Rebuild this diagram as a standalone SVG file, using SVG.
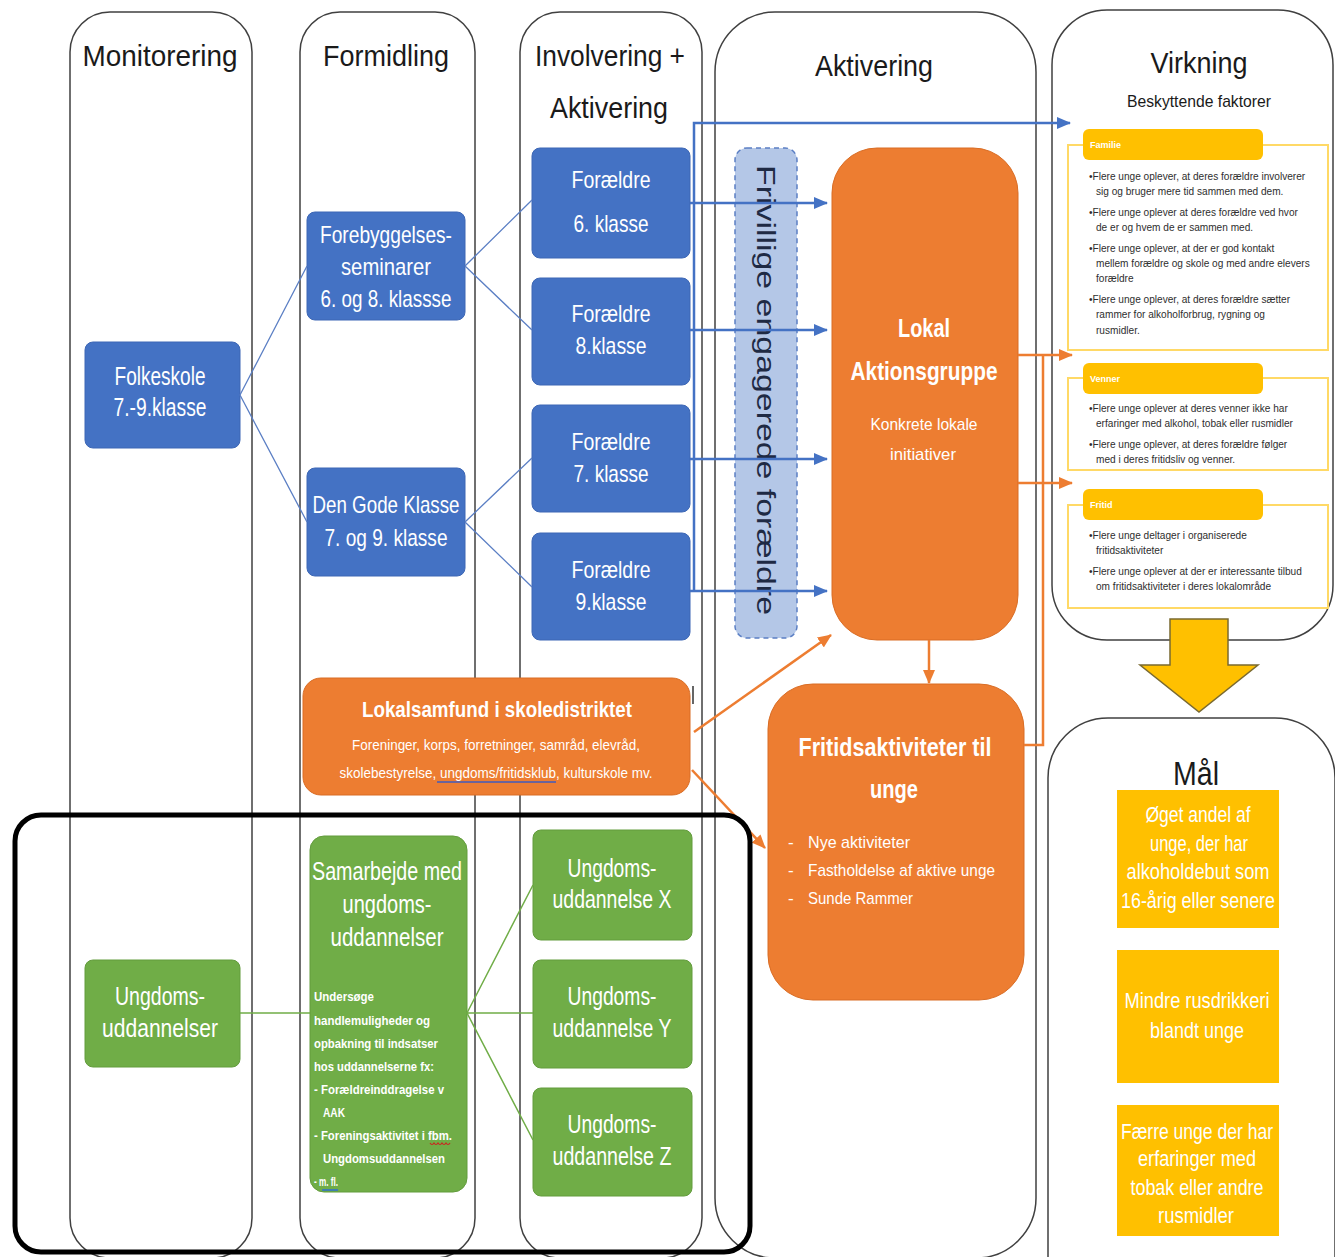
<svg xmlns="http://www.w3.org/2000/svg" width="1335" height="1257" viewBox="0 0 1335 1257">
<defs>
<style>
.col{fill:#fff;stroke:#404040;stroke-width:1.5}
.t{font-family:"Liberation Sans",Arial,sans-serif}
.hd{font-size:30px;fill:#1a1a1a;text-anchor:middle}
.bl{fill:#4472C4;stroke:#3d67b5;stroke-width:1}
.or{fill:#ED7D31;stroke:#d96d25;stroke-width:1}
.gr{fill:#70AD47;stroke:#639c3d;stroke-width:1}
.yl{fill:#FFC000}
.w{fill:#fff;text-anchor:middle}
.b25{font-size:25px}
.b{font-weight:bold}
.pan{fill:#fff;stroke:#FFD966;stroke-width:2}
.tab{fill:#FFC000}
.tabt{font-size:9px;font-weight:bold;fill:#fff}
.pt{font-size:10.1px;fill:#2e2e2e}
.lnb{stroke:#5b7fc4;stroke-width:1.3;fill:none}
.lng{stroke:#70AD47;stroke-width:1.5;fill:none}
.arb{stroke:#4472C4;stroke-width:2.5;fill:none}
.aro{stroke:#ED7D31;stroke-width:2.5;fill:none}
.sm{font-size:13px;font-weight:bold;fill:#fff}
</style>
<marker id="mb" markerUnits="userSpaceOnUse" markerWidth="14" markerHeight="12" refX="13" refY="6" orient="auto"><path d="M0,0 L14,6 L0,12 z" fill="#4472C4"/></marker>
<marker id="mo" markerUnits="userSpaceOnUse" markerWidth="14" markerHeight="12" refX="13" refY="6" orient="auto"><path d="M0,0 L14,6 L0,12 z" fill="#ED7D31"/></marker>
</defs>
<rect width="1335" height="1257" fill="#fff"/>

<g id="columns">
<g id="col-monitorering"><rect class="col" x="70" y="12" width="182" height="1246" rx="40"/><text class="t hd" x="160" y="66" textLength="155" lengthAdjust="spacingAndGlyphs">Monitorering</text></g>
<g id="col-formidling"><rect class="col" x="300" y="12" width="175" height="1246" rx="40"/><text class="t hd" x="386" y="66" textLength="126" lengthAdjust="spacingAndGlyphs">Formidling</text></g>
<g id="col-involvering"><rect class="col" x="520" y="12" width="182" height="1246" rx="40"/><text class="t hd" x="610" y="66" textLength="150" lengthAdjust="spacingAndGlyphs">Involvering +</text><text class="t hd" x="609" y="118" textLength="118" lengthAdjust="spacingAndGlyphs">Aktivering</text></g>
<g id="col-aktivering"><rect class="col" x="715" y="12" width="321" height="1246" rx="60"/><text class="t hd" x="874" y="76" textLength="118" lengthAdjust="spacingAndGlyphs">Aktivering</text></g>
<g id="col-virkning"><rect class="col" x="1052" y="10" width="281" height="630" rx="55"/><text class="t hd" x="1199" y="73" textLength="97" lengthAdjust="spacingAndGlyphs">Virkning</text><text class="t" x="1199" y="107" font-size="17" fill="#1a1a1a" text-anchor="middle" textLength="144" lengthAdjust="spacingAndGlyphs">Beskyttende faktorer</text></g>
<g id="col-maal"><rect class="col" x="1048" y="718" width="287" height="600" rx="60"/><text class="t" x="1196" y="785" font-size="34" fill="#1a1a1a" text-anchor="middle" textLength="46" lengthAdjust="spacingAndGlyphs">Mål</text></g>
</g>

<g id="nodes">
<g id="folkeskole"><rect class="bl" x="85" y="342" width="155" height="106" rx="8"/><text class="t w b25" x="160" y="385" textLength="91" lengthAdjust="spacingAndGlyphs">Folkeskole</text><text class="t w b25" x="160" y="416" textLength="93" lengthAdjust="spacingAndGlyphs">7.-9.klasse</text></g>
<g id="forebyggelses"><rect class="bl" x="307" y="212" width="158" height="108" rx="8"/><text class="t w" font-size="24" x="386" y="243" textLength="132" lengthAdjust="spacingAndGlyphs">Forebyggelses-</text><text class="t w" font-size="24" x="386" y="275" textLength="90" lengthAdjust="spacingAndGlyphs">seminarer</text><text class="t w" font-size="24" x="386" y="307" textLength="131" lengthAdjust="spacingAndGlyphs">6. og 8. klassse</text></g>
<g id="den-gode-klasse"><rect class="bl" x="307" y="468" width="158" height="108" rx="8"/><text class="t w" font-size="24" x="386" y="513" textLength="147" lengthAdjust="spacingAndGlyphs">Den Gode Klasse</text><text class="t w" font-size="24" x="386" y="546" textLength="123" lengthAdjust="spacingAndGlyphs">7. og 9. klasse</text></g>
<g id="foraeldre-6"><rect class="bl" x="532" y="148" width="158" height="110" rx="8"/><text class="t w" font-size="24" x="611" y="188" textLength="79" lengthAdjust="spacingAndGlyphs">Forældre</text><text class="t w" font-size="24" x="611" y="232" textLength="75" lengthAdjust="spacingAndGlyphs">6. klasse</text></g>
<g id="foraeldre-8"><rect class="bl" x="532" y="278" width="158" height="107" rx="8"/><text class="t w" font-size="24" x="611" y="322" textLength="79" lengthAdjust="spacingAndGlyphs">Forældre</text><text class="t w" font-size="24" x="611" y="354" textLength="71" lengthAdjust="spacingAndGlyphs">8.klasse</text></g>
<g id="foraeldre-7"><rect class="bl" x="532" y="405" width="158" height="107" rx="8"/><text class="t w" font-size="24" x="611" y="450" textLength="79" lengthAdjust="spacingAndGlyphs">Forældre</text><text class="t w" font-size="24" x="611" y="482" textLength="75" lengthAdjust="spacingAndGlyphs">7. klasse</text></g>
<g id="foraeldre-9"><rect class="bl" x="532" y="533" width="158" height="107" rx="8"/><text class="t w" font-size="24" x="611" y="578" textLength="79" lengthAdjust="spacingAndGlyphs">Forældre</text><text class="t w" font-size="24" x="611" y="610" textLength="71" lengthAdjust="spacingAndGlyphs">9.klasse</text></g>

<g id="frivillige"><rect x="735" y="148" width="62" height="490" rx="12" fill="#B4C7E7" stroke="#5B7FC4" stroke-width="1.5" stroke-dasharray="5,4"/><text class="t" font-size="25" fill="#1f2a44" text-anchor="middle" transform="translate(757,390) rotate(90)" textLength="450" lengthAdjust="spacingAndGlyphs">Frivillige engagerede forældre</text></g>

<g id="lokal-aktionsgruppe"><rect class="or" x="832" y="148" width="186" height="492" rx="45"/><text class="t w b" font-size="26" x="924" y="337" textLength="52" lengthAdjust="spacingAndGlyphs">Lokal</text><text class="t w b" font-size="26" x="924" y="380" textLength="147" lengthAdjust="spacingAndGlyphs">Aktionsgruppe</text><text class="t w" font-size="17" x="924" y="430" textLength="107" lengthAdjust="spacingAndGlyphs">Konkrete lokale</text><text class="t w" font-size="17" x="923" y="460" textLength="66" lengthAdjust="spacingAndGlyphs">initiativer</text></g>

<g id="fritidsaktiviteter"><rect class="or" x="768" y="684" width="256" height="316" rx="45"/><text class="t w b" font-size="25" x="895" y="756" textLength="193" lengthAdjust="spacingAndGlyphs">Fritidsaktiviteter til</text><text class="t w b" font-size="25" x="894" y="798" textLength="48" lengthAdjust="spacingAndGlyphs">unge</text>
<g class="t" font-size="17" fill="#fff"><text x="788" y="848">-</text><text x="808" y="848" textLength="102" lengthAdjust="spacingAndGlyphs">Nye aktiviteter</text><text x="788" y="876">-</text><text x="808" y="876" textLength="187" lengthAdjust="spacingAndGlyphs">Fastholdelse af aktive unge</text><text x="788" y="904">-</text><text x="808" y="904" textLength="105" lengthAdjust="spacingAndGlyphs">Sunde Rammer</text></g></g>

<g id="lokalsamfund"><rect class="or" x="303" y="678" width="387" height="117" rx="18"/><text class="t w b" font-size="22" x="497" y="717" textLength="270" lengthAdjust="spacingAndGlyphs">Lokalsamfund i skoledistriktet</text><text class="t w" font-size="15" x="496" y="750" textLength="288" lengthAdjust="spacingAndGlyphs">Foreninger, korps, forretninger, samråd, elevråd,</text><text class="t w" font-size="15" x="496" y="778" textLength="313" lengthAdjust="spacingAndGlyphs">skolebestyrelse, ungdoms/fritidsklub, kulturskole mv.</text><line x1="437" y1="782" x2="556" y2="782" stroke="#3f5bbf" stroke-width="1.5"/></g>

<g id="ungdomsuddannelser"><rect class="gr" x="85" y="960" width="155" height="107" rx="8"/><text class="t w b25" x="160" y="1005" textLength="90" lengthAdjust="spacingAndGlyphs">Ungdoms-</text><text class="t w b25" x="160" y="1037" textLength="116" lengthAdjust="spacingAndGlyphs">uddannelser</text></g>
<g id="samarbejde"><rect class="gr" x="310" y="836" width="157" height="356" rx="14"/><text class="t w b25" x="387" y="880" textLength="150" lengthAdjust="spacingAndGlyphs">Samarbejde med</text><text class="t w b25" x="387" y="913" textLength="89" lengthAdjust="spacingAndGlyphs">ungdoms-</text><text class="t w b25" x="387" y="946" textLength="113" lengthAdjust="spacingAndGlyphs">uddannelser</text>
<g class="t sm"><text x="314" y="1001" textLength="60" lengthAdjust="spacingAndGlyphs">Undersøge</text><text x="314" y="1025" textLength="116" lengthAdjust="spacingAndGlyphs">handlemuligheder og</text><text x="314" y="1048" textLength="124" lengthAdjust="spacingAndGlyphs">opbakning til indsatser</text><text x="314" y="1071" textLength="120" lengthAdjust="spacingAndGlyphs">hos uddannelserne fx:</text><text x="314" y="1094" textLength="130" lengthAdjust="spacingAndGlyphs">- Forældreinddragelse v</text><text x="323" y="1117" textLength="22" lengthAdjust="spacingAndGlyphs">AAK</text><text x="314" y="1140" textLength="138" lengthAdjust="spacingAndGlyphs">- Foreningsaktivitet i fbm.</text><text x="323" y="1163" textLength="122" lengthAdjust="spacingAndGlyphs">Ungdomsuddannelsen</text><text x="314" y="1186" textLength="24" lengthAdjust="spacingAndGlyphs">- m. fl.</text></g>
<path d="M430,1143 q2,3 4,0 q2,3 4,0 q2,3 4,0 q2,3 4,0 q2,3 4,0" stroke="#d02020" stroke-width="1.2" fill="none"/><line x1="322" y1="1190" x2="338" y2="1190" stroke="#2f6fd0" stroke-width="1.5"/></g>
<g id="uddannelse-x"><rect class="gr" x="533" y="830" width="159" height="110" rx="8"/><text class="t w b25" x="612" y="877" textLength="89" lengthAdjust="spacingAndGlyphs">Ungdoms-</text><text class="t w b25" x="612" y="908" textLength="119" lengthAdjust="spacingAndGlyphs">uddannelse X</text></g>
<g id="uddannelse-y"><rect class="gr" x="533" y="960" width="159" height="108" rx="8"/><text class="t w b25" x="612" y="1005" textLength="89" lengthAdjust="spacingAndGlyphs">Ungdoms-</text><text class="t w b25" x="612" y="1037" textLength="119" lengthAdjust="spacingAndGlyphs">uddannelse Y</text></g>
<g id="uddannelse-z"><rect class="gr" x="533" y="1088" width="159" height="108" rx="8"/><text class="t w b25" x="612" y="1133" textLength="89" lengthAdjust="spacingAndGlyphs">Ungdoms-</text><text class="t w b25" x="612" y="1165" textLength="119" lengthAdjust="spacingAndGlyphs">uddannelse Z</text></g>

<g id="familie"><rect class="pan" x="1068" y="145" width="260" height="205"/><rect class="tab" x="1083" y="129" width="180" height="31" rx="6"/><text class="t tabt" x="1090" y="148">Familie</text>
<g class="t pt"><text x="1089" y="180">•Flere unge oplever, at deres forældre involverer</text><text x="1096" y="195">sig og bruger mere tid sammen med dem.</text><text x="1089" y="216">•Flere unge oplever at deres forældre ved hvor</text><text x="1096" y="231">de er og hvem de er sammen med.</text><text x="1089" y="252">•Flere unge oplever, at der er god kontakt</text><text x="1096" y="267">mellem forældre og skole og med andre elevers</text><text x="1096" y="282">forældre</text><text x="1089" y="303">•Flere unge oplever, at deres forældre sætter</text><text x="1096" y="318">rammer for alkoholforbrug, rygning og</text><text x="1096" y="334">rusmidler.</text></g></g>
<g id="venner"><rect class="pan" x="1068" y="378" width="260" height="92"/><rect class="tab" x="1083" y="363" width="180" height="31" rx="6"/><text class="t tabt" x="1090" y="382">Venner</text>
<g class="t pt"><text x="1089" y="412">•Flere unge oplever at deres venner ikke har</text><text x="1096" y="427">erfaringer med alkohol, tobak eller rusmidler</text><text x="1089" y="448">•Flere unge oplever, at deres forældre følger</text><text x="1096" y="463">med i deres fritidsliv og venner.</text></g></g>
<g id="fritid"><rect class="pan" x="1068" y="505" width="260" height="103"/><rect class="tab" x="1083" y="489" width="180" height="31" rx="6"/><text class="t tabt" x="1090" y="508">Fritid</text>
<g class="t pt"><text x="1089" y="539">•Flere unge deltager i organiserede</text><text x="1096" y="554">fritidsaktiviteter</text><text x="1089" y="575">•Flere unge oplever at der er interessante tilbud</text><text x="1096" y="590">om fritidsaktiviteter i deres lokalområde</text></g></g>

<g id="big-arrow"><path d="M1170,619 H1228 V665 H1258 L1199,712 L1140,665 H1170 Z" fill="#FFC000" stroke="#7a6a30" stroke-width="1.5"/></g>

<g id="maal-1"><rect class="yl" x="1117" y="790" width="162" height="138"/><g class="t w" font-size="22"><text x="1198" y="822" textLength="105" lengthAdjust="spacingAndGlyphs">Øget andel af</text><text x="1199" y="851" textLength="98" lengthAdjust="spacingAndGlyphs">unge, der har</text><text x="1198" y="879" textLength="143" lengthAdjust="spacingAndGlyphs">alkoholdebut som</text><text x="1198" y="908" textLength="154" lengthAdjust="spacingAndGlyphs">16-årig eller senere</text></g></g>
<g id="maal-2"><rect class="yl" x="1117" y="950" width="162" height="133"/><g class="t w" font-size="22"><text x="1197" y="1008" textLength="145" lengthAdjust="spacingAndGlyphs">Mindre rusdrikkeri</text><text x="1197" y="1038" textLength="94" lengthAdjust="spacingAndGlyphs">blandt unge</text></g></g>
<g id="maal-3"><rect class="yl" x="1117" y="1105" width="162" height="131"/><g class="t w" font-size="22"><text x="1197" y="1139" textLength="152" lengthAdjust="spacingAndGlyphs">Færre unge der har</text><text x="1197" y="1166" textLength="118" lengthAdjust="spacingAndGlyphs">erfaringer med</text><text x="1197" y="1195" textLength="133" lengthAdjust="spacingAndGlyphs">tobak eller andre</text><text x="1196" y="1223" textLength="76" lengthAdjust="spacingAndGlyphs">rusmidler</text></g></g>
</g>

<g id="connectors">
<path class="lnb" d="M240,395 L307,266 M240,395 L307,522 M465,266 L532,200 M465,266 L532,330 M465,522 L532,458 M465,522 L532,587"/>
<path class="lng" d="M240,1013 H310 M467,1013 L533,885 M467,1013 H533 M467,1013 L533,1140"/>
<path class="arb" d="M694,591 V123 H1070" marker-end="url(#mb)"/>
<path class="arb" d="M690,203 H827" marker-end="url(#mb)"/>
<path class="arb" d="M690,330 H827" marker-end="url(#mb)"/>
<path class="arb" d="M690,459 H827" marker-end="url(#mb)"/>
<path class="arb" d="M690,591 H827" marker-end="url(#mb)"/>
<path class="aro" d="M929,640 V683" marker-end="url(#mo)"/>
<path class="aro" d="M1018,355 H1072" marker-end="url(#mo)"/>
<path class="aro" d="M1018,483 H1072" marker-end="url(#mo)"/>
<path class="aro" d="M1024,745 H1043 V355"/>
<path class="aro" stroke-width="2" d="M694,732 L831,635" marker-end="url(#mo)"/>
<path class="aro" stroke-width="2" d="M692,770 L765,848" marker-end="url(#mo)"/>
<line x1="693" y1="686" x2="693" y2="704" stroke="#333" stroke-width="1.5"/>
</g>

<g id="highlight-frame"><rect x="15" y="815" width="735" height="437" rx="26" fill="none" stroke="#000" stroke-width="5"/></g>
</svg>
